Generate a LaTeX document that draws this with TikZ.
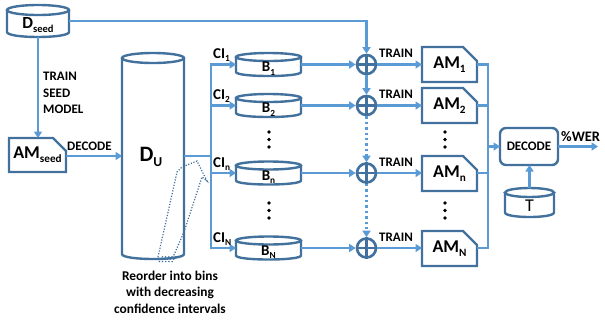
\documentclass[tikz,border=0pt]{standalone}
\usepackage{fontspec}
\setmainfont{Carlito}
\usetikzlibrary{arrows.meta}
\definecolor{lb}{HTML}{5B9BD5}
\definecolor{db}{HTML}{41719C}
\newcommand{\lsub}[1]{\raisebox{-0.45ex}{\scalebox{0.62}{#1}}}
\newcommand{\cylpath}[3]{%
 \draw[outl] ([yshift=-#3pt]#1.north west) -- ([yshift=#3pt]#1.south west)
   .. controls ([yshift={-#3/3*1pt}]#1.south west) and ([yshift={-#3/3*1pt}]#1.south east) .. ([yshift=#3pt]#1.south east)
   -- ([yshift=-#3pt]#1.north east);
 \draw[outl] ([yshift=-#3pt]#1.north) ellipse[x radius=#2pt, y radius=#3pt];
}
\newcommand{\ampath}[2]{%
 \draw[outl] (#1.north west) -- ([xshift=-#2pt]#1.north east) -- ([yshift=-#2pt]#1.north east) -- (#1.south east) -- (#1.south west) -- cycle;}
\begin{document}
\begin{tikzpicture}[x=1pt,y=-1pt,
 conn/.style={draw=lb, line width=2.4pt},
 tip/.style={-{Triangle[width=8pt,length=6.5pt]}},
 arr/.style={conn,tip},
 dotarr/.style={conn,dash pattern=on 2.4pt off 3pt,-{Triangle[width=8pt,length=6.5pt]}},
 outl/.style={draw=db, line width=2.4pt},
 shp/.style={rectangle, inner sep=0pt, outer sep=0pt},
 lbl/.style={font=\fontsize{13}{13}\selectfont\bfseries, inner sep=0pt},
 amt/.style={font=\fontsize{18}{18}\selectfont\bfseries},
 blt/.style={font=\fontsize{15}{15}\selectfont\bfseries, inner sep=0pt},
 plus/.style={circle, draw=db, line width=2.6pt, minimum size=19pt, inner sep=0pt},
 vdot/.style={circle, fill=black, inner sep=0pt, minimum size=3.6pt},
 reo/.style={draw=db, line width=1.2pt, dash pattern=on 1.2pt off 1.6pt},
]
\useasboundingbox (0,0) rectangle (605,322);

% D_seed
\node[shp, minimum width=62, minimum height=32] (dseed) at (38,21) {};
\cylpath{dseed}{31}{5}
\node[font=\fontsize{17}{17}\selectfont\bfseries, inner sep=0pt] (dseedt) at (38,25) {D\lsub{seed}};

% AM_seed
\node[shp, amt, minimum width=57, minimum height=34] (amseed) at (37.5,155) {AM\lsub{seed}};
\ampath{amseed}{13}

% D_U
\node[shp, minimum width=62, minimum height=206] (du) at (153,156) {};
\cylpath{du}{31}{5}
\node[font=\fontsize{22}{22}\selectfont\bfseries, inner sep=0pt] (dut) at (151,157) {D\lsub{U}};

% B cylinders
\foreach \n/\r/\t in {b1/64.5/1, b2/105.5/2, bn/173/n, bN/248/N}{
  \node[shp, minimum width=65, minimum height=23] (\n) at (268.5,\r) {};
  \cylpath{\n}{32.5}{4}
  \node[blt] (\n t) at (268.5,\r+4) {B\lsub{\t}};
}

% plus nodes
\foreach \n/\r in {p1/64.5, p2/105.5, pn/173, pN/248}{
  \node[plus] (\n) at (366.5,\r) {};
  \draw[db, line width=2.6pt] (\n.north) -- (\n.south) (\n.west) -- (\n.east);
}

% AM boxes
\foreach \n/\r/\t in {am1/64.5/1, am2/105.5/2, amn/173.5/n, amN/248.5/N}{
  \node[shp, amt, minimum width=55, minimum height=35] (\n) at (449.5,\r) {AM\lsub{\t}};
  \ampath{\n}{14}
}

% DECODE and T
\node[shp, draw=db, line width=2.4pt, rounded corners=6pt, minimum width=58, minimum height=37,
      font=\fontsize{13}{13}\selectfont\bfseries] (dec) at (529,146.5) {DECODE};
\node[shp, minimum width=49, minimum height=29] (tcyl) at (529.5,202.5) {};
\cylpath{tcyl}{24.5}{4.5}
\node[font=\fontsize{18}{18}\selectfont, inner sep=0pt] (tcylt) at (529.5,206) {T};

% coordinates for buses
\coordinate (busL) at (211,156);
\coordinate (busR) at (488,146.5);
\coordinate (wer) at (598,146.5);

% connectors
\draw[arr] (dseed.south) -- (dseed.south |- amseed.north);
\draw[arr] (dseed.east) -| (p1.north);
\draw[arr] (amseed.east |- du.west) -- (du.west);
\draw[conn] (du.east) -- (busL);
\draw[conn, {Triangle[width=8pt,length=6.5pt]}-{Triangle[width=8pt,length=6.5pt]}]
  (b1.west) -- (busL |- b1.west) -- (busL |- bN.west) -- (bN.west);
\draw[arr] (busL |- b2.west) -- (b2.west);
\draw[arr] (busL |- bn.west) -- (bn.west);
\foreach \b/\p in {b1/p1, b2/p2, bn/pn, bN/pN}{ \draw[arr] (\b.east) -- (\p.west); }
\draw[arr] (p1.south) -- (p2.north);
\draw[dotarr] (p2.south) -- (pn.north);
\draw[dotarr] (pn.south) -- (pN.north);
\foreach \p/\a in {p1/am1, p2/am2, pn/amn, pN/amN}{ \draw[arr] (\p.east) -- (\p.east -| \a.west); }
\draw[conn] (am1.east |- p1.east) -- (busR |- p1.east) -- (busR |- pN.east) -- (amN.east |- pN.east);
\draw[conn] (am2.east |- p2.east) -- (busR |- p2.east);
\draw[conn] (amn.east |- pn.east) -- (busR |- pn.east);
\draw[arr] (busR) -- (dec.west);
\draw[arr] (dec.east) -- (wer);
\draw[arr] (tcyl.north) -- (tcyl.north |- dec.south);

% labels
\node[lbl, anchor=base west] (ltrain) at (43,80) {TRAIN};
\node[lbl, anchor=base west] (lseed) at (43,97) {SEED};
\node[lbl, anchor=base west] (lmodel) at (43,113) {MODEL};
\node[lbl, anchor=base west] (ldec) at (67,150) {DECODE};
\foreach \r/\t/\k in {64.5/1/a, 105.5/2/b, 173/n/c, 248/N/d}{
  \node[blt, anchor=base west] (ci\k) at (213,\r-6) {CI\lsub{\t}};
  \node[lbl, anchor=base west] (tr\k) at (379,\r-7) {TRAIN};
}
\node[font=\fontsize{14.5}{14.5}\selectfont\bfseries, inner sep=0pt, anchor=base west] (lwer) at (561,141) {\%WER};

% vertical dots
\foreach \x/\k in {269/b, 445/a}{
  \foreach \y/\m in {132/1, 139.5/2, 147/3, 203/4, 210.5/5, 218/6}{
    \node[vdot] (d\k\m) at (\x,\y) {};
  }
}

% reorder dotted arrow
\draw[reo] (158,257) -- (177,172) -- (182,167) -- (197,161) -- (207,181) -- (202,177) -- (184,232) -- (173,257);
\foreach \i in {0,1,2,3,4}{ \draw[reo] (159+3.2*\i,262) -- (163+3.2*\i,256); }

\node[font=\fontsize{13.4}{16.5}\selectfont\bfseries, align=center, inner sep=0pt] (reot) at (170,292)
 {Reorder into bins\\with decreasing\\confidence intervals};
\end{tikzpicture}
\end{document}
